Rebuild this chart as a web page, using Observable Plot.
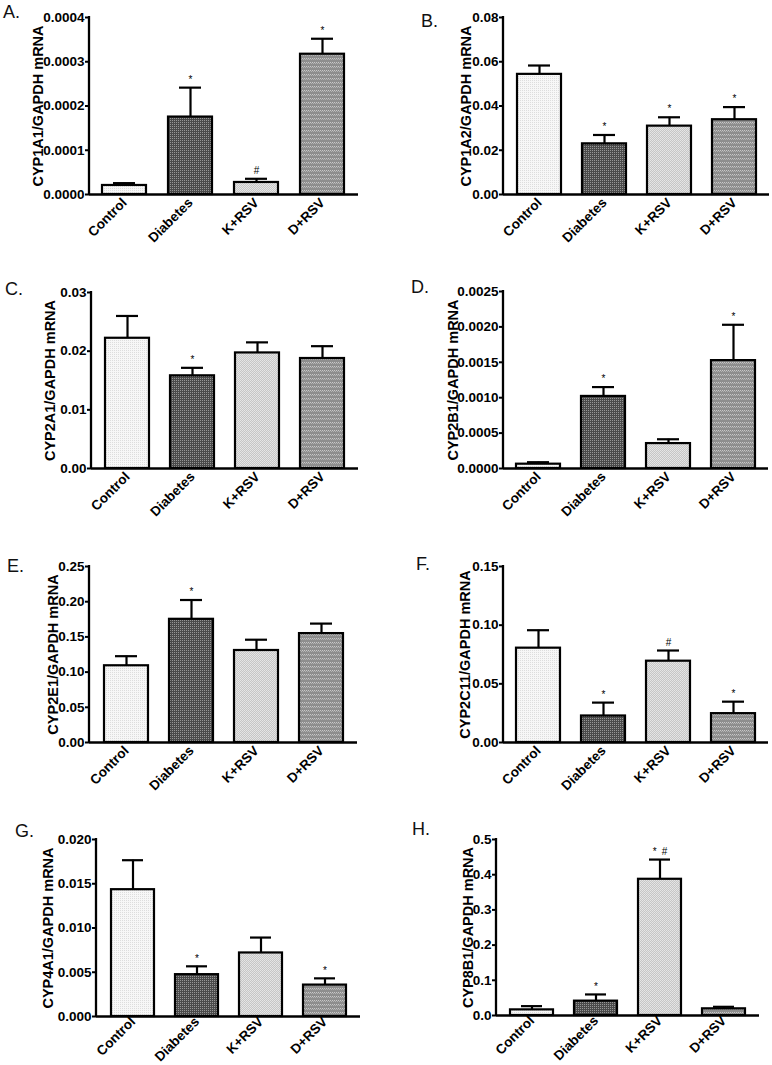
<!DOCTYPE html>
<html><head><meta charset="utf-8">
<script src="https://cdn.jsdelivr.net/npm/d3@7"></script>
<script src="https://cdn.jsdelivr.net/npm/@observablehq/plot@0.6"></script>
<style>
body{margin:0;background:#fff;}
#root{position:relative;width:772px;height:1065px;overflow:hidden;background:#fff;font-family:"Liberation Sans",Arial,sans-serif;}
.panel{position:absolute;}
.letter{position:absolute;font-size:18px;line-height:18px;color:#111;font-family:"Liberation Sans",Arial,sans-serif;}
</style></head><body>
<svg width="0" height="0" style="position:absolute">
<defs>
<pattern id="pControl" width="2" height="2" patternUnits="userSpaceOnUse"><rect width="2" height="2" fill="#f7f7f7"/><rect width="1" height="1" fill="#dddddd"/></pattern>
<pattern id="pDiab" width="2" height="2" patternUnits="userSpaceOnUse"><rect width="2" height="2" fill="#4a4a4a"/><rect width="1" height="1" fill="#969696"/></pattern>
<pattern id="pKRSV" width="2" height="2" patternUnits="userSpaceOnUse"><rect width="2" height="2" fill="#c6c6c6"/><rect width="1" height="1" fill="#e6e6e6"/><rect x="1" y="1" width="1" height="1" fill="#e2e2e2"/></pattern>
<pattern id="pDRSV" width="4" height="4" patternUnits="userSpaceOnUse"><rect width="4" height="4" fill="#8e8e8e"/><rect x="0" y="2" width="1" height="1" fill="#c8c8c8"/><rect x="2" y="2" width="1" height="1" fill="#c8c8c8"/><rect x="1" y="3" width="1" height="1" fill="#b2b2b2"/><rect x="3" y="3" width="1" height="1" fill="#b2b2b2"/></pattern>
</defs></svg>
<div id="root"></div>
<script>
// ---- data ----
const groups = ["Control", "Diabetes", "K+RSV", "D+RSV"];
const letters = ["A.", "B.", "C.", "D.", "E.", "F.", "G.", "H."];
const yLabels = ["CYP1A1/GAPDH mRNA", "CYP1A2/GAPDH mRNA", "CYP2A1/GAPDH mRNA", "CYP2B1/GAPDH mRNA",
                 "CYP2E1/GAPDH mRNA", "CYP2C11/GAPDH mRNA", "CYP4A1/GAPDH mRNA", "CYP8B1/GAPDH mRNA"];
const meanA = [0.0000204, 0.000175, 0.0000272, 0.000317];
const semA  = [0.0000053, 0.0000665, 0.0000083, 0.000035];
const meanB = [0.0543, 0.0229, 0.0309, 0.0338];
const semB  = [0.0040, 0.0040, 0.0040, 0.0057];
const meanC = [0.0222, 0.0158, 0.0197, 0.01875];
const semC  = [0.0038, 0.00136, 0.0018, 0.0021];
const meanD = [0.000061, 0.001018, 0.000352, 0.001524];
const semD  = [0.000028, 0.000132, 0.000061, 0.000506];
const meanE = [0.109, 0.175, 0.1307, 0.1547];
const semE  = [0.0136, 0.0274, 0.0153, 0.0142];
const meanF = [0.0804, 0.0226, 0.0693, 0.0246];
const semF  = [0.0153, 0.0114, 0.0091, 0.0102];
const meanG = [0.01433, 0.00473, 0.00718, 0.00355];
const semG  = [0.00333, 0.00094, 0.00174, 0.00076];
const meanH = [0.016, 0.0408, 0.387, 0.019];
const semH  = [0.0106, 0.019, 0.056, 0.0057];
const sigA = ["", "*", "#", "*"];
const sigB = ["", "*", "*", "*"];
const sigC = ["", "*", "", ""];
const sigD = ["", "*", "", "*"];
const sigE = ["", "*", "", ""];
const sigF = ["", "*", "#", "*"];
const sigG = ["", "*", "", "*"];
const sigH = ["", "*", "*\u2002#", ""];
const ticksA = [0, 0.0001, 0.0002, 0.0003, 0.0004];
const ticksB = [0, 0.02, 0.04, 0.06, 0.08];
const ticksC = [0, 0.01, 0.02, 0.03];
const ticksD = [0, 0.0005, 0.0010, 0.0015, 0.0020, 0.0025];
const ticksE = [0, 0.05, 0.10, 0.15, 0.20, 0.25];
const ticksF = [0, 0.05, 0.10, 0.15];
const ticksG = [0, 0.005, 0.010, 0.015, 0.020];
const ticksH = [0, 0.1, 0.2, 0.3, 0.4, 0.5];
const tickFormats = [".4f", ".2f", ".2f", ".4f", ".2f", ".2f", ".3f", ".1f"];

const means = [meanA, meanB, meanC, meanD, meanE, meanF, meanG, meanH];
const sems = [semA, semB, semC, semD, semE, semF, semG, semH];
const sigs = [sigA, sigB, sigC, sigD, sigE, sigF, sigG, sigH];
const ticks = [ticksA, ticksB, ticksC, ticksD, ticksE, ticksF, ticksG, ticksH];

// ---- layout ----
const fills = ["url(#pControl)", "url(#pDiab)", "url(#pKRSV)", "url(#pDRSV)"];
const L = [
  {left: 0,   top: 0,   h: 260, mL: 89,  mT: 17, mB: 66, mR: 28, lab: 51, lx: 3,   ly: 18,  pad: 6},
  {left: 386, top: 0,   h: 260, mL: 117, mT: 17, mB: 66, mR: 3,  lab: 37, lx: 421, ly: 27,  pad: 6},
  {left: 0,   top: 260, h: 260, mL: 91,  mT: 32, mB: 52, mR: 28, lab: 41, lx: 5,   ly: 295, pad: 6},
  {left: 386, top: 260, h: 260, mL: 117, mT: 31, mB: 52, mR: 4,  lab: 50, lx: 411, ly: 293, pad: 6},
  {left: 0,   top: 520, h: 270, mL: 89,  mT: 46, mB: 48, mR: 29, lab: 36, lx: 7,   ly: 572, pad: 6},
  {left: 386, top: 520, h: 270, mL: 117, mT: 46, mB: 48, mR: 4,  lab: 38, lx: 416, ly: 570, pad: 6},
  {left: 0,   top: 790, h: 275, mL: 96,  mT: 49, mB: 49, mR: 26, lab: 48, lx: 15,  ly: 837, pad: 3},
  {left: 386, top: 790, h: 275, mL: 110, mT: 49, mB: 50, mR: 13, lab: 28, lx: 412, ly: 835, pad: 3}
];

const root = document.getElementById("root");

for (let p = 0; p < 8; p++) {
  const lay = L[p];
  const data = groups.map((g, i) => ({group: g, mean: means[p][i], top: means[p][i] + sems[p][i], sig: sigs[p][i]}));
  const yt = ticks[p];
  const ymax = yt[yt.length - 1];
  const fmt = d3.format(tickFormats[p]);
  const yAxisLine = (index, scales, values, dims) => {
    const ln = document.createElementNS("http://www.w3.org/2000/svg", "line");
    const x0 = dims.marginLeft;
    ln.setAttribute("x1", x0); ln.setAttribute("x2", x0);
    ln.setAttribute("y1", scales.y(ymax) - 1); ln.setAttribute("y2", scales.y(0) + 1);
    ln.setAttribute("stroke", "#000"); ln.setAttribute("stroke-width", 2.3);
    return ln;
  };
  const chart = Plot.plot({
    width: 386,
    height: lay.h,
    marginLeft: lay.mL, marginTop: lay.mT, marginBottom: lay.mB, marginRight: lay.mR,
    style: {fontFamily: "'Liberation Sans', Arial, sans-serif", fontSize: "13.5px", fontWeight: "bold", color: "#000", background: "transparent", overflow: "visible"},
    x: {domain: groups, paddingInner: 0.33, paddingOuter: 0.2, label: null},
    y: {domain: [0, ymax], label: null},
    marks: [
      Plot.ruleX(data, {x: "group", y1: "mean", y2: "top", stroke: "#000", strokeWidth: 2.2}),
      Plot.tickY(data, {x: "group", y: "top", stroke: "#000", strokeWidth: 2.2, insetLeft: 11, insetRight: 11}),
      ...groups.map((g, i) => Plot.barY(data.filter(d => d.group === g), {x: "group", y: "mean", fill: fills[i], stroke: "#000", strokeWidth: 2.2})),
      Plot.text(data.filter(d => d.sig), {x: "group", y: "top", text: "sig", dy: -8, fontSize: 10, fontWeight: "normal", fill: "#000"}),
      Plot.axisY({ticks: yt, tickFormat: fmt, tickSize: 4, tickPadding: 1, strokeWidth: 2, label: null}),
      Plot.axisX({tickRotate: -45, tickSize: 0, tickPadding: lay.pad, fontSize: 13.5, label: null}),
      Plot.ruleY([0], {stroke: "#000", strokeWidth: 2.3}),
      yAxisLine,
      Plot.text([yLabels[p]], {frameAnchor: "left", dx: -lay.lab, rotate: -90, fontSize: 14.5, fontWeight: "bold", textAnchor: "middle", lineAnchor: "middle"})
    ]
  });
  chart.classList.add("panel");
  chart.style.left = lay.left + "px";
  chart.style.top = lay.top + "px";
  root.appendChild(chart);

  const lt = document.createElement("div");
  lt.className = "letter";
  lt.textContent = letters[p];
  lt.style.left = lay.lx + "px";
  lt.style.top = (lay.ly - 15) + "px";
  root.appendChild(lt);
}
</script>
</body></html>
